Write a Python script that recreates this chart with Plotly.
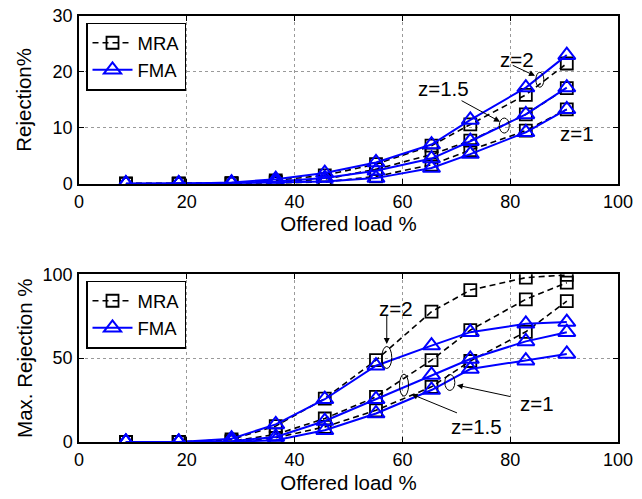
import plotly.graph_objects as go
from plotly.subplots import make_subplots

# ---------------- data ----------------
load_pct = [8.7, 18.5, 28.3, 36.5, 45.6, 55.1, 65.4, 72.6, 82.9, 90.5]

# top panel: Rejection %
rej_mra_z2 = [0, 0, 0.1, 0.6, 1.5, 3.5, 6.8, 10.6, 15.9, 21.5]
rej_mra_z15 = [0, 0, 0.05, 0.3, 0.8, 2.6, 5.2, 7.7, 12.4, 17.1]
rej_mra_z1 = [0, 0, 0.0, 0.1, 0.3, 1.3, 3.4, 6.0, 9.5, 13.3]
rej_fma_z2 = [0, 0, 0.2, 0.8, 1.9, 3.8, 7.0, 11.4, 17.2, 23.0]
rej_fma_z15 = [0, 0, 0.1, 0.4, 1.0, 2.3, 4.5, 7.6, 12.4, 17.2]
rej_fma_z1 = [0, 0, 0.05, 0.2, 0.4, 1.0, 2.8, 5.3, 9.2, 13.3]

# bottom panel: Max. Rejection %
max_mra_z2 = [0, 0, 1.5, 9.5, 25.9, 48.8, 77.7, 90.6, 98.0, 99.6]
max_mra_z15 = [0, 0, 0.5, 4.5, 14.0, 26.9, 48.8, 66.7, 85.1, 95.0]
max_mra_z1 = [0, 0, 0.2, 2.5, 9.0, 18.9, 32.9, 48.3, 65.7, 84.0]
max_fma_z2 = [0, 0, 2.0, 10.5, 25.5, 45.5, 57.5, 65.5, 70.5, 71.5]
max_fma_z15 = [0, 0, 0.5, 3.0, 12.5, 25.5, 40.0, 49.5, 60.0, 65.5]
max_fma_z1 = [0, 0, 0.2, 1.0, 7.0, 17.0, 31.0, 43.5, 48.5, 52.5]

x_ticks = [0, 20, 40, 60, 80, 100]
top_y_ticks = [0, 10, 20, 30]
bot_y_ticks = [0, 50, 100]

# ---------------- styling ----------------
FONT = "Liberation Sans, Arial, Helvetica, sans-serif"
BLUE = "#0000ff"
BLACK = "#000000"

fig = make_subplots(rows=2, cols=1)

def add_group(row, mra_list, fma_list, legend_name):
    for i, ys in enumerate(mra_list):
        fig.add_trace(go.Scatter(
            x=load_pct, y=ys, mode="lines+markers", name="MRA",
            line=dict(color=BLACK, width=1.6, dash="6px,4px"),
            marker=dict(symbol="square-open", size=12, color=BLACK,
                        line=dict(width=1.8, color=BLACK)),
            showlegend=(i == 0), legend=legend_name,
        ), row=row, col=1)
    for i, ys in enumerate(fma_list):
        fig.add_trace(go.Scatter(
            x=load_pct, y=ys, mode="lines+markers", name="FMA",
            line=dict(color=BLUE, width=2),
            marker=dict(symbol="triangle-up-open", size=15, color=BLUE,
                        line=dict(width=2, color=BLUE)),
            showlegend=(i == 0), legend=legend_name,
        ), row=row, col=1)

add_group(1, [rej_mra_z2, rej_mra_z15, rej_mra_z1],
          [rej_fma_z2, rej_fma_z15, rej_fma_z1], "legend")
add_group(2, [max_mra_z2, max_mra_z15, max_mra_z1],
          [max_fma_z2, max_fma_z15, max_fma_z1], "legend2")

axis_common = dict(
    showline=True, linecolor=BLACK, linewidth=1.5, mirror="ticks",
    ticks="inside", ticklen=5, tickcolor=BLACK, tickwidth=1,
    showgrid=True, gridcolor="#9a9a9a", griddash="dot", gridwidth=1,
    zeroline=False, tickfont=dict(size=18, color=BLACK, family=FONT),
    ticklabelstandoff=1, automargin=False, ticklabeloverflow="allow",
)

# the page's body margin is removed (post_script), so the figure fills the window
W, H = 642, 499
ML, MR, MT, MB = 79, 24, 16, 57
top_px, bot_px = MT, H - MB
def py(p):  # p in reference pixels, converted to paper fraction
    return (bot_px - p) / (bot_px - top_px)

TITLE_FONT = dict(size=20.5, family=FONT, color=BLACK)
fig.update_xaxes(axis_common)
fig.update_yaxes(axis_common)
fig.update_xaxes(range=[0, 100], tickvals=x_ticks,
                 title=dict(text="Offered load %", font=TITLE_FONT, standoff=6))
fig.update_yaxes(range=[0, 30], tickvals=top_y_ticks, row=1, col=1,
                 title=dict(text="Rejection%", font=TITLE_FONT, standoff=15))
fig.update_yaxes(range=[0, 100], tickvals=bot_y_ticks, row=2, col=1,
                 title=dict(text="Max. Rejection %", font=TITLE_FONT, standoff=4))

fig.update_layout(
    yaxis=dict(domain=[py(183.7), 1.0]),
    yaxis2=dict(domain=[0.0, py(274.3)]),
)

legend_common = dict(
    bgcolor="white", bordercolor=BLACK, borderwidth=1.5,
    font=dict(size=18.5, family=FONT, color=BLACK),
    xanchor="left", yanchor="top", x=(86 - 79) / 539.0,
    itemwidth=40, tracegroupgap=0,
)

fig.update_layout(
    width=W, height=H,
    margin=dict(l=ML, r=MR, t=MT, b=MB),
    paper_bgcolor="white", plot_bgcolor="white",
    font=dict(family=FONT, color=BLACK),
    legend=dict(legend_common, y=py(22.7)),
    legend2=dict(legend_common, y=py(280.7)),
)

# ---------------- annotations (ellipses, arrows, labels) ----------------
ellipses = [  # (xref, yref, x, y, w_px, h_px)
    ("x", "y", 85.5, 18.6, 8, 15),
    ("x", "y", 78.9, 10.4, 10, 15),
    ("x2", "y2", 57.1, 50.4, 10, 22),
    ("x2", "y2", 60.3, 33.9, 9, 22),
    ("x2", "y2", 68.8, 35.5, 10, 16),
]
for xr, yr, cx, cy, w, h in ellipses:
    fig.add_shape(type="circle", xref=xr, yref=yr, xsizemode="pixel", ysizemode="pixel",
                  xanchor=cx, yanchor=cy, x0=-w / 2, x1=w / 2, y0=-h / 2, y1=h / 2,
                  line=dict(color=BLACK, width=1))

arrows = [  # (xref, yref, head_x, head_y, tail_x, tail_y)
    ("x", "y", 84.6, 19.3, 80.2, 21.3),
    ("x", "y", 78.1, 11.1, 70.7, 15.0),
    ("x2", "y2", 57.1, 58.4, 57.1, 76.7),
    ("x2", "y2", 61.7, 28.5, 70.4, 17.0),
    ("x2", "y2", 70.1, 33.9, 80.3, 26.9),
]
for xr, yr, hx, hy, tx, ty in arrows:
    fig.add_annotation(xref=xr, yref=yr, axref=xr, ayref=yr, x=hx, y=hy, ax=tx, ay=ty,
                       text="", showarrow=True, arrowhead=2, arrowsize=1.2,
                       arrowwidth=1, arrowcolor=BLACK)

labels = [  # (xref, yref, x, y, text)
    ("x", "y", 81.2, 22.2, "z=2"),
    ("x", "y", 67.6, 17.1, "z=1.5"),
    ("x", "y", 92.3, 9.0, "z=1"),
    ("x2", "y2", 58.9, 79.7, "z=2"),
    ("x2", "y2", 73.8, 9.0, "z=1.5"),
    ("x2", "y2", 84.9, 22.9, "z=1"),
]
for xr, yr, lx, ly, t in labels:
    fig.add_annotation(xref=xr, yref=yr, x=lx, y=ly, text=t, showarrow=False,
                       font=dict(size=20.5, family=FONT, color=BLACK))

fig.write_html("out.html", config={"displayModeBar": False},
               post_script="document.body.style.margin='0';")
